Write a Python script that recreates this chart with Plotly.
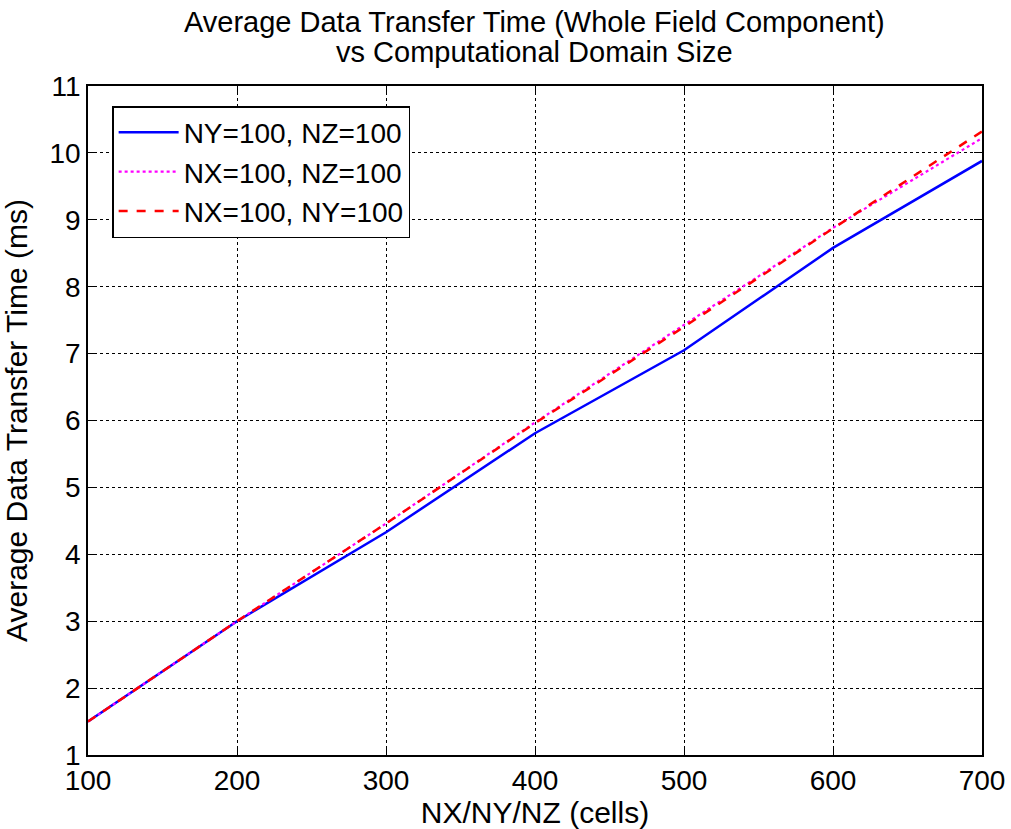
import plotly.graph_objects as go

# Domain size along the varied dimension (cells)
cells = [100, 200, 300, 400, 500, 600, 700]

# Average data transfer time (ms) for each sweep
t_vary_nx = [1.50, 3.00, 4.33, 5.81, 7.05, 8.58, 9.88]   # NY=100, NZ=100
t_vary_ny = [1.50, 3.00, 4.46, 5.97, 7.43, 8.88, 10.22]  # NX=100, NZ=100
t_vary_nz = [1.50, 3.00, 4.46, 5.96, 7.40, 8.87, 10.32]  # NX=100, NY=100

labels = ["NY=100, NZ=100", "NX=100, NZ=100", "NX=100, NY=100"]
title_lines = ["Average Data Transfer Time (Whole Field Component)",
               "vs Computational Domain Size"]

FONT = "Liberation Sans, Arial, sans-serif"

fig = go.Figure()
fig.add_trace(go.Scatter(x=cells, y=t_vary_nx, mode="lines", name=labels[0],
                         line=dict(color="#0000ff", width=2.5, dash="solid")))
fig.add_trace(go.Scatter(x=cells, y=t_vary_ny, mode="lines", name=labels[1],
                         line=dict(color="#ff00ff", width=2.2, dash="dot")))
fig.add_trace(go.Scatter(x=cells, y=t_vary_nz, mode="lines", name=labels[2],
                         line=dict(color="#ff0000", width=2.5, dash="dash")))

axis_common = dict(
    showline=True, linecolor="black", linewidth=1.5, mirror="ticks",
    ticks="inside", ticklen=8, tickwidth=1, tickcolor="black",
    showgrid=True, gridcolor="black", gridwidth=1, griddash="dot",
    zeroline=False, automargin=False,
    tickfont=dict(family=FONT, size=28, color="black"),
)

# Two-line heading placed above the axes
for i, line in enumerate(title_lines):
    fig.add_annotation(text=line, xref="paper", yref="paper",
                       x=0.499, y=1 + (64 - 30 * i) / 669,
                       xanchor="center", yanchor="middle", showarrow=False,
                       font=dict(family=FONT, size=29, color="black"))

fig.update_layout(
    width=1011, height=829,
    margin=dict(l=88, r=29, t=86, b=74),
    paper_bgcolor="white", plot_bgcolor="white",
    font=dict(family=FONT, color="black"),
    xaxis=dict(
        range=[100, 700], tickmode="array", tickvals=cells,
        title=dict(text="NX/NY/NZ (cells)", font=dict(family=FONT, size=30), standoff=3),
        **axis_common,
    ),
    yaxis=dict(
        range=[1, 11], tickmode="array", tickvals=list(range(1, 12)),
        title=dict(text="Average Data Transfer Time (ms)", font=dict(family=FONT, size=30), standoff=13),
        **axis_common,
    ),
    legend=dict(
        x=0.027, y=0.97, xanchor="left", yanchor="top",
        bgcolor="white", bordercolor="black", borderwidth=1.5,
        font=dict(family=FONT, size=28, color="black"),
        tracegroupgap=0, itemwidth=60,
    ),
    showlegend=True,
)

fig.write_html("out.html")
